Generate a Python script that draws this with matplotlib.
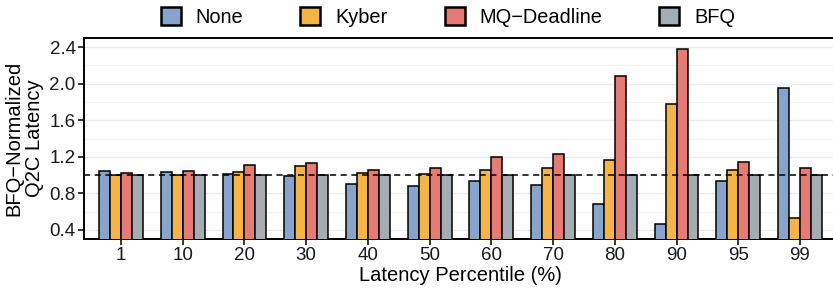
import numpy as np
import matplotlib
matplotlib.use("Agg")
import matplotlib.pyplot as plt
from matplotlib.patches import Patch

plt.rcParams['font.family'] = ['Liberation Sans', 'DejaVu Sans']

percentiles = ["1", "10", "20", "30", "40", "50", "60", "70", "80", "90", "95", "99"]
schedulers = ["None", "Kyber", "MQ\u2212Deadline", "BFQ"]
none_vals = [1.04, 1.03, 1.01, 0.99, 0.90, 0.88, 0.93, 0.89, 0.68, 0.46, 0.94, 1.95]
kyber_vals = [1.00, 1.00, 1.03, 1.10, 1.02, 1.01, 1.06, 1.08, 1.17, 1.78, 1.05, 0.53]
mq_vals = [1.02, 1.04, 1.11, 1.13, 1.05, 1.08, 1.20, 1.23, 2.08, 2.38, 1.14, 1.08]
bfq_vals = [1.0] * 12
colors = ["#87A4CA", "#F5B447", "#E57B74", "#A6ADB2"]

series = [none_vals, kyber_vals, mq_vals, bfq_vals]

fig = plt.figure(figsize=(8.33, 2.94), dpi=100)
ax = fig.add_axes([84 / 833, 1 - 239 / 294, 753 / 833, 201 / 294])

x = np.arange(len(percentiles))
w = 0.178
for i, (vals, c) in enumerate(zip(series, colors)):
    ax.bar(x + (i - 1.5) * w, vals, width=w, color=c, edgecolor="black",
           linewidth=1.1, zorder=3)

ax.axhline(1.0, color="black", linestyle=(0, (4, 3)), linewidth=1.1, zorder=4)

ax.set_xlim(-0.6, len(percentiles) - 0.4)
ax.set_ylim(0.3, 2.5)
ax.set_yticks([0.4, 0.8, 1.2, 1.6, 2.0, 2.4])
ax.set_yticks([0.6, 1.0, 1.4, 1.8, 2.2], minor=True)
ax.set_xticks(x)
ax.set_xticklabels(percentiles)
ax.grid(axis="y", which="major", color="#EBEBEB", linewidth=1.0, zorder=0)
ax.grid(axis="y", which="minor", color="#F4F4F4", linewidth=0.8, zorder=0)
ax.tick_params(axis="y", which="minor", length=0)
ax.tick_params(axis="both", which="major", labelsize=13.5, length=4, width=1.1,
               color="black", labelcolor="#1a1a1a", pad=2)

for side in ["left", "bottom", "top"]:
    ax.spines[side].set_linewidth(1.4)
    ax.spines[side].set_color("black")
ax.spines["right"].set_visible(False)

ax.set_xlabel("Latency Percentile (%)", fontsize=14.5, labelpad=1)
ax.set_ylabel("BFQ\u2212Normalized\nQ2C Latency", fontsize=14.5, labelpad=4,
              linespacing=1.1)

handles = [Patch(facecolor=c, edgecolor="black", linewidth=1.8) for c in colors]
fig.legend(handles, schedulers, loc="center",
           bbox_to_anchor=(448 / 833, 1 - 17 / 294),
           ncol=4, frameon=False, fontsize=14.4, handlelength=1.0,
           handleheight=1.0, handletextpad=0.75, columnspacing=2.85,
           borderpad=0.2)

fig.savefig("out.png", dpi=100)
